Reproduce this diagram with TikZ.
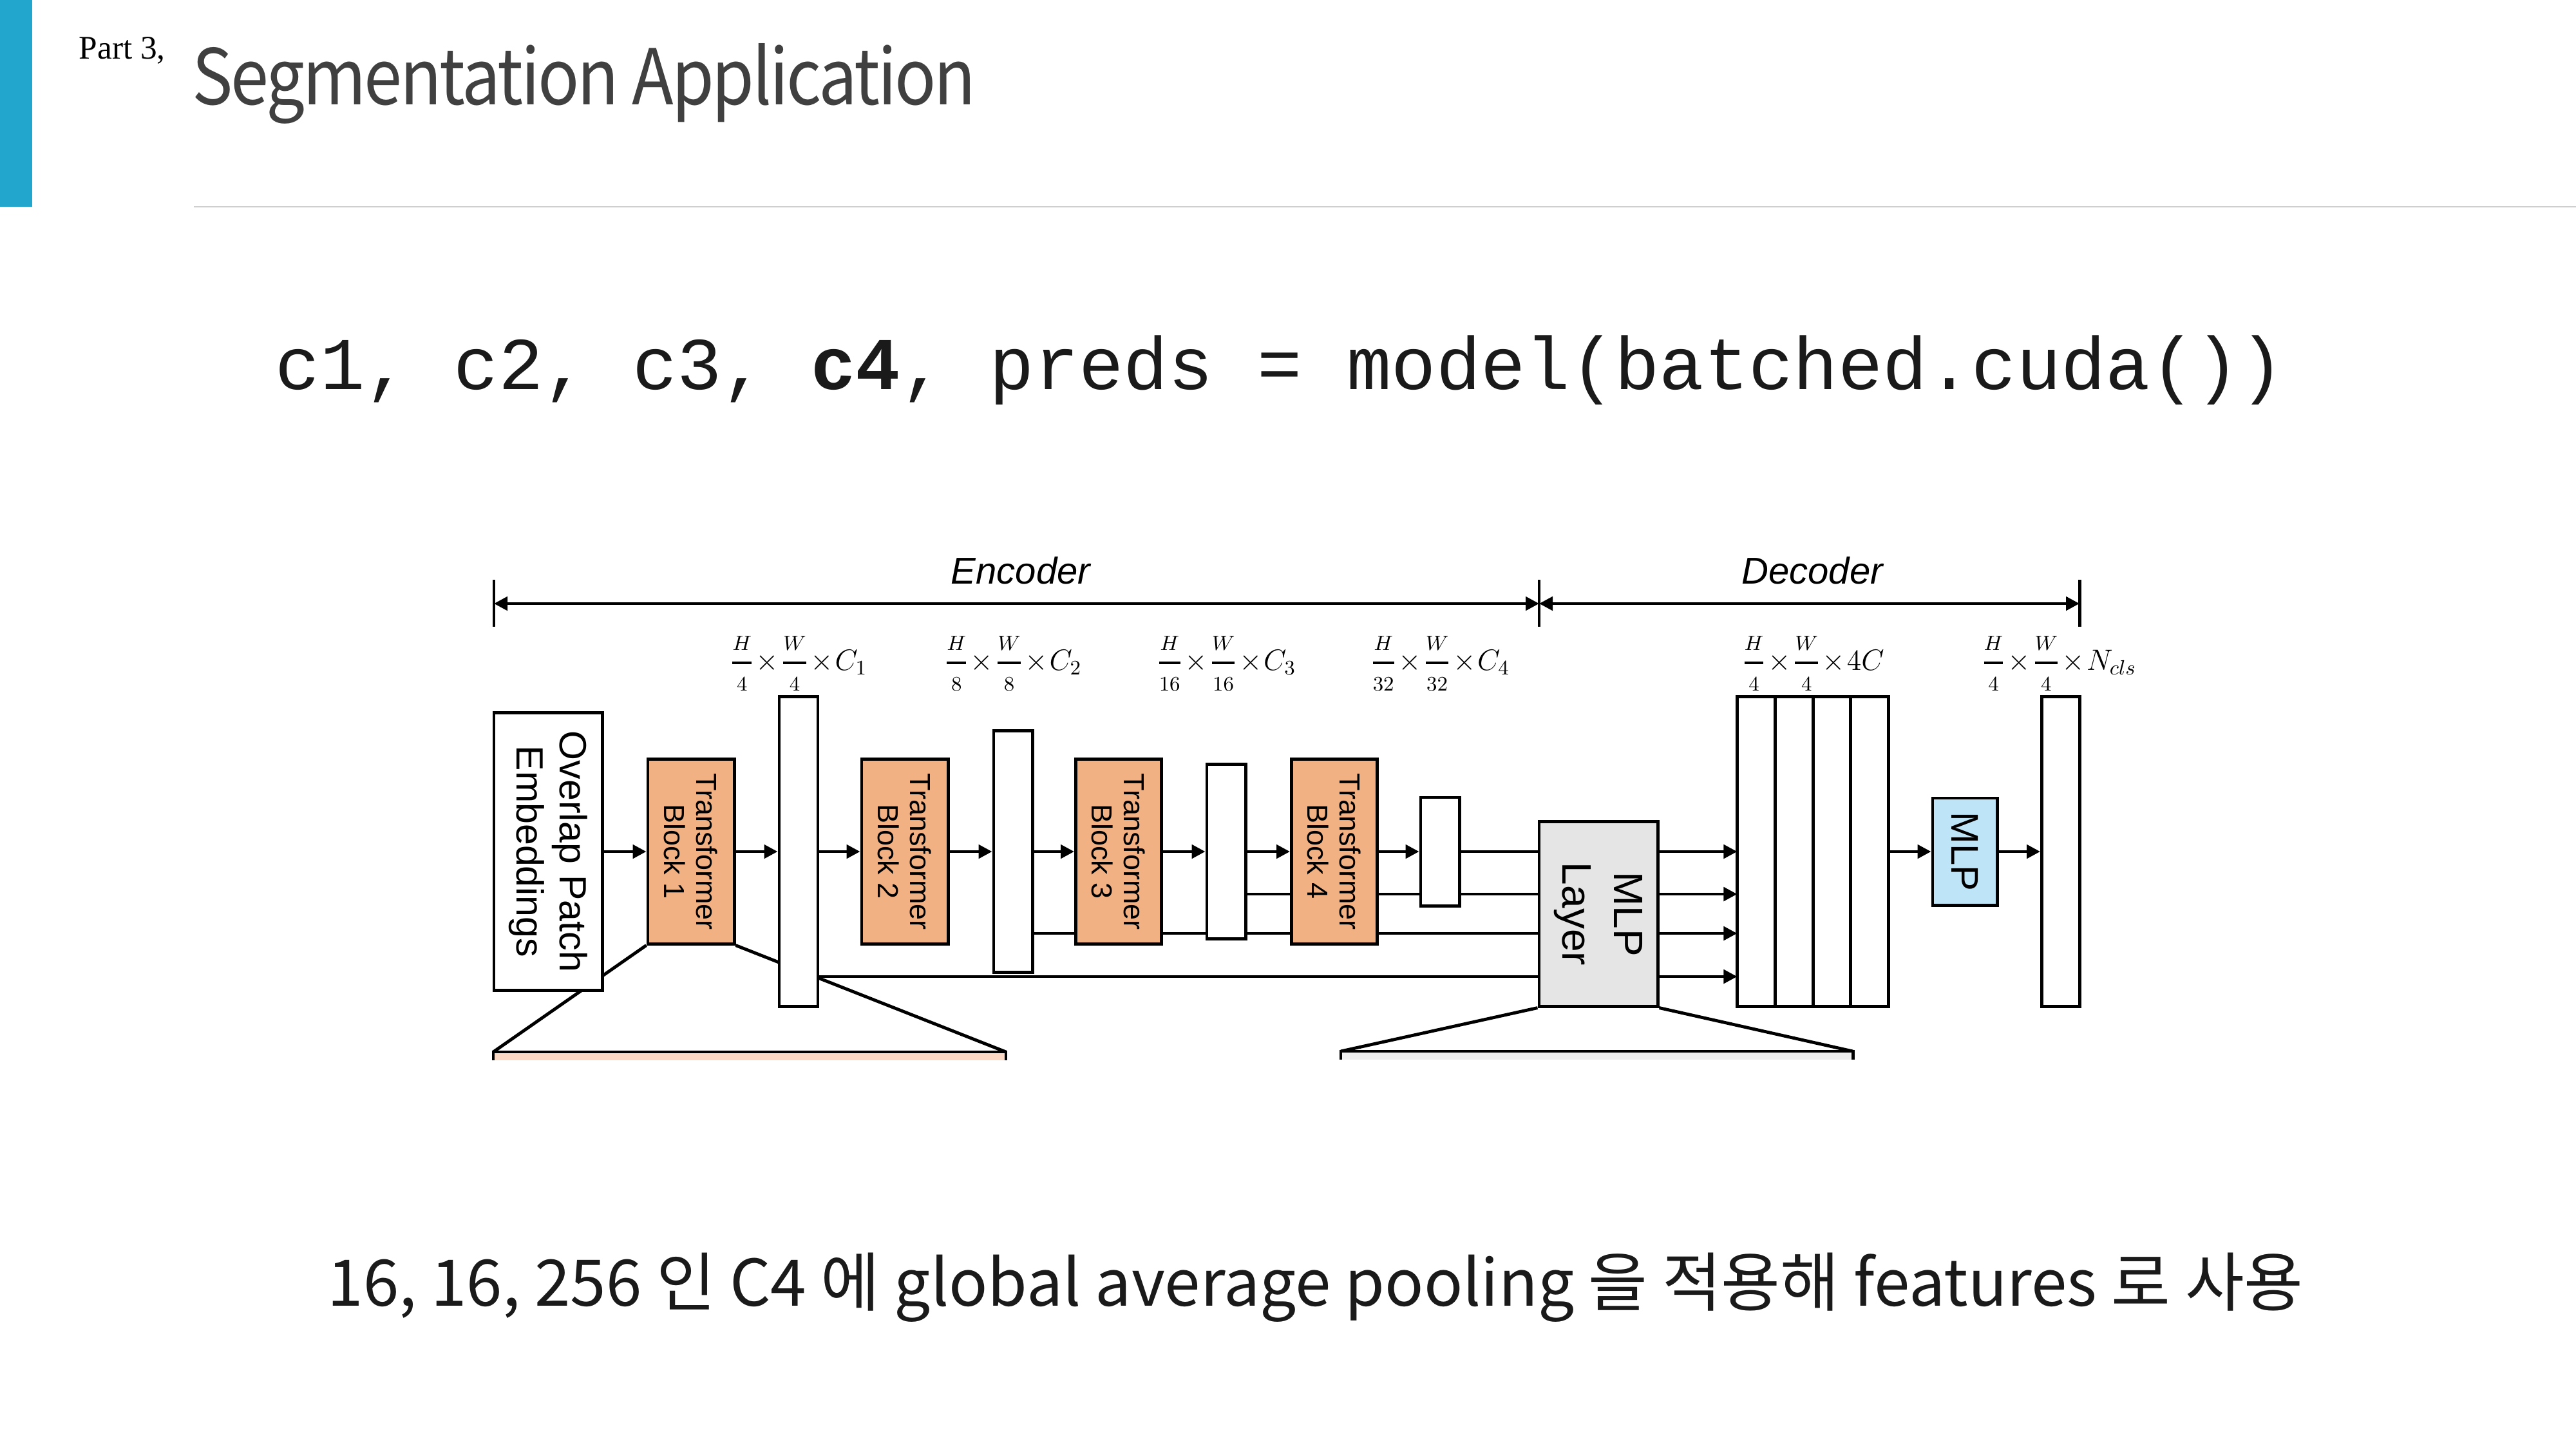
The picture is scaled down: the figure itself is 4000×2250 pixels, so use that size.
\RequirePackage{fix-cm}
\documentclass[tikz,border=0pt]{standalone}
\usepackage{graphicx}
\usepackage{amsmath}
\usepackage{fontspec}
\setmainfont{Liberation Sans}
\newfontfamily\partfont{Liberation Serif}
\newfontfamily\codefont{Liberation Mono}
\newfontfamily\krfont{Noto Sans CJK KR}
\newfontfamily\headfont{Noto Sans CJK KR}[LetterSpace=-3]
\usetikzlibrary{arrows.meta,calc}

\pgfdeclarelayer{canvas}
\pgfdeclarelayer{behind}
\pgfsetlayers{canvas,behind,main}

\definecolor{accentblue}{HTML}{22A6CE}
\definecolor{titlegray}{HTML}{404040}
\definecolor{rulegray}{HTML}{CFCFCF}
\definecolor{blockorange}{HTML}{F2B183}
\definecolor{mlpgray}{HTML}{E5E5E5}
\definecolor{mlpblue}{HTML}{BDE4F7}
\definecolor{peach}{HTML}{FAD8C3}
\definecolor{basegray}{HTML}{EFEFEF}
\definecolor{inktext}{HTML}{1A1A1A}

% feature-map size fractions: small terms, open spacing, heavy bar
\newcommand\shapefrac[2]{\genfrac{}{}{1.1pt}{0}{\scriptstyle #1}{\scriptstyle #2}}
\newcommand\tms{\mkern1mu{\times}\mkern1mu}

\tikzset{
  blockbox/.style={draw=black, line width=1.4pt, inner sep=0pt},
  conn/.style={draw=black, line width=1.4pt},
  arr/.style={conn, -{Triangle[length=2.1mm,width=2.1mm]}},
  spanarrow/.style={conn, {Triangle[length=2.1mm,width=2.1mm]}-{Triangle[length=2.1mm,width=2.1mm]}},
  tick/.style={draw=black, line width=1.4pt},
  vtext/.style={rotate=-90, align=center, inner sep=0pt, text=black},
  shapelabel/.style={inner sep=0pt, font=\fontsize{13pt}{15pt}\selectfont},
  partlabel/.style={inner sep=0pt, font=\itshape\fontsize{16.5pt}{18pt}\selectfont},
}

\begin{document}
\begin{tikzpicture}[x=0.01cm, y=-0.01cm]
\begin{pgfonlayer}{canvas}
  \fill[white] (0,0) rectangle (4000,2250);
\end{pgfonlayer}
\useasboundingbox (0,0) rectangle (4000,2250);

% slide header
\fill[accentblue] (0,0) rectangle (50,321);
\draw[rulegray, line width=0.8pt] (301,321) -- (4000,321);
\node[anchor=base west, inner sep=0pt, font=\partfont\fontsize{14.6pt}{16pt}\selectfont] (part) at (122,91) {Part 3,};
\node[anchor=base west, inner sep=0pt, text=titlegray] (title) at (298,162)
  {\resizebox{12.16cm}{0.95cm}{\headfont\fontsize{36pt}{40pt}\selectfont Segmentation Application}};

% code line
\node[anchor=base west, inner sep=0pt, text=inktext] (code) at (427,604)
  {\resizebox{31.18cm}{!}{\codefont\fontsize{33pt}{38pt}\selectfont c1, c2, c3, \textbf{c4}, preds = model(batched.cuda())}};

% encoder / decoder spans
\coordinate (encL) at (767,937);
\coordinate (encR) at (2390,937);
\coordinate (decR) at (3229,937);
\foreach \c in {encL,encR,decR} \draw[tick] ($(\c)+(0,-37)$) -- ($(\c)+(0,36)$);
\draw[spanarrow] (encL) -- (encR);
\draw[spanarrow] (encR) -- (decR);
\node[partlabel, anchor=base] (enclabel) at (1585,906) {Encoder};
\node[partlabel, anchor=base] (declabel) at (2814,906) {Decoder};

% encoder blocks
\node[blockbox, fill=white, minimum width=1.68cm, minimum height=4.31cm] (ope) at (851,1322) {};
\node[blockbox, fill=blockorange, minimum width=1.34cm, minimum height=2.86cm] (tb1) at (1073,1322) {};
\node[blockbox, fill=blockorange, minimum width=1.34cm, minimum height=2.86cm] (tb2) at (1405,1322) {};
\node[blockbox, fill=blockorange, minimum width=1.33cm, minimum height=2.86cm] (tb3) at (1737,1322) {};
\node[blockbox, fill=blockorange, minimum width=1.33cm, minimum height=2.86cm] (tb4) at (2072,1322) {};
\node[blockbox, fill=white, minimum width=0.60cm, minimum height=4.81cm] (bar1) at (1240,1322) {};
\node[blockbox, fill=white, minimum width=0.60cm, minimum height=3.74cm] (bar2) at (1573,1322) {};
\node[blockbox, fill=white, minimum width=0.60cm, minimum height=2.70cm] (bar3) at (1904,1322) {};
\node[blockbox, fill=white, minimum width=0.60cm, minimum height=1.68cm] (bar4) at (2236,1322) {};

\node[vtext, font=\fontsize{16.8pt}{19.1pt}\selectfont] (opetext) at (ope) {Overlap Patch\\Embeddings};
\node[vtext, font=\fontsize{12.8pt}{14.2pt}\selectfont] (tb1text) at (tb1) {Transformer\\Block 1};
\node[vtext, font=\fontsize{12.8pt}{14.2pt}\selectfont] (tb2text) at (tb2) {Transformer\\Block 2};
\node[vtext, font=\fontsize{12.8pt}{14.2pt}\selectfont] (tb3text) at (tb3) {Transformer\\Block 3};
\node[vtext, font=\fontsize{12.8pt}{14.2pt}\selectfont] (tb4text) at (tb4) {Transformer\\Block 4};

% decoder blocks
\node[blockbox, fill=mlpgray, minimum width=1.84cm, minimum height=2.86cm] (mlplayer) at (2482,1419) {};
\node[vtext, font=\fontsize{18.2pt}{22.8pt}\selectfont] (mlplayertext) at (mlplayer) {MLP\\Layer};
\node[blockbox, fill=white, minimum width=2.35cm, minimum height=4.81cm, outer sep=0pt] (concat) at (2815,1322) {};
\foreach \f in {0.25,0.5,0.75}
  \draw[conn] ($(concat.north west)!\f!(concat.north east)$) -- ($(concat.south west)!\f!(concat.south east)$);
\node[blockbox, fill=mlpblue, minimum width=1.00cm, minimum height=1.66cm] (mlp) at (3051,1322) {};
\node[vtext, font=\fontsize{17pt}{20pt}\selectfont] (mlptext) at (mlp) {MLP};
\node[blockbox, fill=white, minimum width=0.59cm, minimum height=4.81cm] (outbar) at (3200,1322) {};

% shape labels
\coordinate (laby) at (0,1030);
\node[shapelabel] (lab1) at (bar1 |- laby) {$\shapefrac{H}{4}\tms\shapefrac{W}{4}\tms C_1$};
\node[shapelabel] (lab2) at (bar2 |- laby) {$\shapefrac{H}{8}\tms\shapefrac{W}{8}\tms C_2$};
\node[shapelabel] (lab3) at (bar3 |- laby) {$\shapefrac{H}{16}\tms\shapefrac{W}{16}\tms C_3$};
\node[shapelabel] (lab4) at (bar4 |- laby) {$\shapefrac{H}{32}\tms\shapefrac{W}{32}\tms C_4$};
\node[shapelabel] (lab5) at (concat |- laby) {$\shapefrac{H}{4}\tms\shapefrac{W}{4}\tms 4C$};
\node[shapelabel] (lab6) at (3197,1030) {$\shapefrac{H}{4}\tms\shapefrac{W}{4}\tms N_{cls}$};

% main data path
\draw[arr] (ope) -- (tb1);
\draw[arr] (tb1) -- (bar1);
\draw[arr] (bar1) -- (tb2);
\draw[arr] (tb2) -- (bar2);
\draw[arr] (bar2) -- (tb3);
\draw[arr] (tb3) -- (bar3);
\draw[arr] (bar3) -- (tb4);
\draw[arr] (tb4) -- (bar4);
\draw[conn] (bar4.east) -- (mlplayer.west |- bar4.east);
\draw[arr] (concat) -- (mlp);
\draw[arr] (mlp) -- (outbar);

% skip feeds into the MLP layer, passing behind later blocks
\coordinate (row2) at (0,1388);
\coordinate (row3) at (0,1449);
\coordinate (row4) at (0,1516);
\begin{pgfonlayer}{behind}
  \draw[conn] (bar3.east |- row2) -- (mlplayer.west |- row2);
  \draw[conn] (bar2.east |- row3) -- (mlplayer.west |- row3);
  \draw[conn] (bar1.east |- row4) -- (mlplayer.west |- row4);
\end{pgfonlayer}
\foreach \r in {bar4.east,row2,row3,row4}
  \draw[arr] (mlplayer.east |- \r) -- (concat.west |- \r);

% zoom-out trapezoids with the tops of the detail panels
\coordinate (encBaseL) at (766,1633);
\coordinate (encBaseR) at (1562,1633);
\coordinate (decBaseL) at (2082,1632);
\coordinate (decBaseR) at (2877,1632);
\begin{pgfonlayer}{behind}
  \draw[conn] (tb1.south west) -- (encBaseL);
  \draw[conn] (tb1.south east) -- (encBaseR);
\end{pgfonlayer}
\draw[conn] (mlplayer.south west) -- (decBaseL);
\draw[conn] (mlplayer.south east) -- (decBaseR);
\fill[peach] (encBaseL) rectangle ($(encBaseR)+(0,13)$);
\draw[conn] ($(encBaseL)+(0,13)$) -- (encBaseL) -- (encBaseR) -- ($(encBaseR)+(0,13)$);
\fill[basegray] (decBaseL) rectangle ($(decBaseR)+(0,13)$);
\draw[conn] ($(decBaseL)+(0,13)$) -- (decBaseL) -- (decBaseR) -- ($(decBaseR)+(0,13)$);

% note
\node[anchor=base west, inner sep=0pt, text=inktext] (note) at (508,2027)
  {\resizebox{30.66cm}{!}{\krfont\fontsize{27.6pt}{32pt}\selectfont 16, 16, 256 인 C4 에 global average pooling 을 적용해 features 로 사용}};
\end{tikzpicture}
\end{document}
